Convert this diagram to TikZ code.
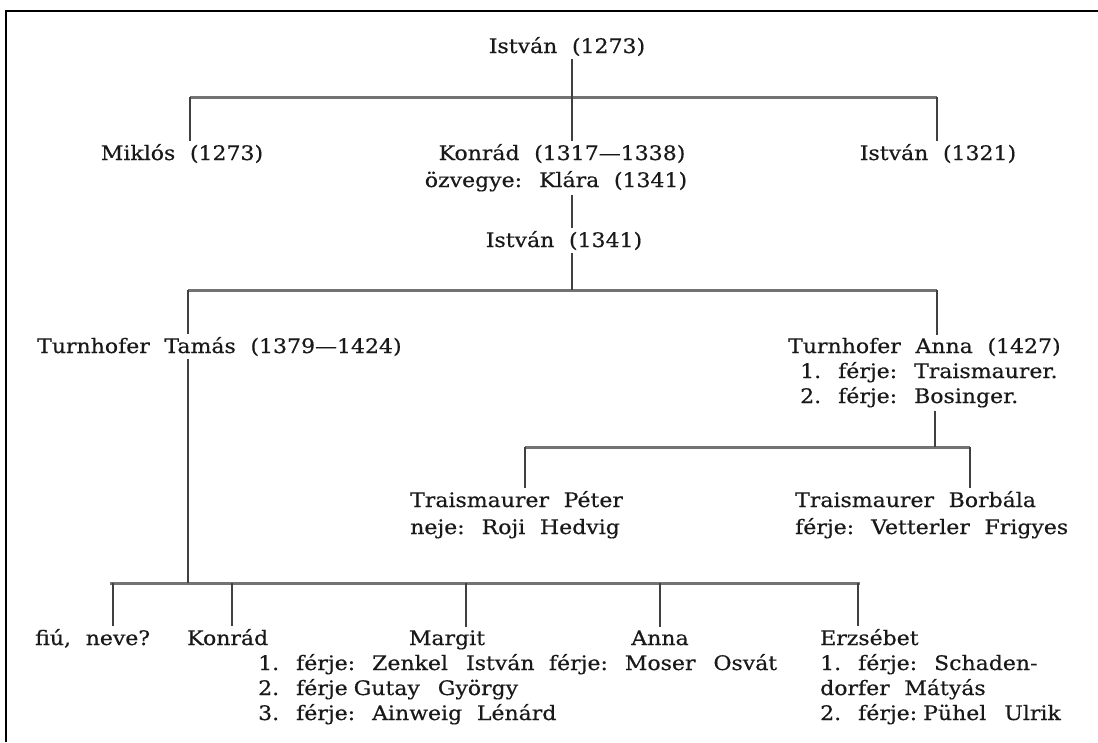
\documentclass[tikz,border=0pt]{standalone}
\usepackage{fontspec}
\setmainfont{DejaVu Serif}[WordSpace={2.1}, FakeStretch=1.1, FakeBold=0.5]
\newcommand{\nsp}{\hspace{0.3em}}
\newcommand{\wsp}{\hspace{0.9em}}
\begin{document}
\begin{tikzpicture}[x=1pt,y=-1pt,
  lbl/.style={anchor=base west, inner sep=0pt, font=\fontsize{20}{25}\selectfont, text=black!90},
  lblc/.style={lbl, anchor=base},
  bar/.style={line width=3pt, draw=black!55},
  stem/.style={line width=1.3pt, draw=black!75},
  frameline/.style={line width=2.5pt, draw=black}]
\useasboundingbox (0,0) rectangle (1098,742);
\draw[frameline] (6,742) -- (6,11) -- (1098,11);

% generation 1
\node[lblc] (i1273) at (567,53) {István (1273)};
\coordinate (b1l) at (190,97);
\coordinate (b1m) at (572,97);
\coordinate (b1r) at (937,97);
\draw[bar] (b1l) -- (b1r);
\draw[stem] (b1m) -- ([yshift=-3pt]i1273.south -| b1m);

% generation 2
\node[lblc] (miklos) at (182,160) {Miklós (1273)};
\node[lblc] (konrad) at (562,160) {Konrád (1317—1338)};
\node[lblc] (klara) at (556,187) {özvegye: Klára (1341)};
\node[lblc] (i1321) at (938,160) {István (1321)};
\draw[stem] (b1l) -- ([yshift=3pt]miklos.north -| b1l);
\draw[stem] (b1m) -- ([yshift=3pt]konrad.north -| b1m);
\draw[stem] (b1r) -- ([yshift=3pt]i1321.north -| b1r);

% generation 3
\node[lblc] (i1341) at (564,247) {István (1341)};
\draw[stem] ([yshift=-3pt]klara.south -| b1m) -- ([yshift=3pt]i1341.north -| b1m);
\coordinate (b2l) at (188,290);
\coordinate (b2m) at (572,290);
\coordinate (b2r) at (937,290);
\draw[bar] (b2l) -- (b2r);
\draw[stem] ([yshift=-3pt]i1341.south -| b2m) -- (b2m);

% generation 4
\node[lbl] (tamas) at (37,353) {Turnhofer Tamás (1379—1424)};
\node[lbl] (anna) at (788,353) {Turnhofer Anna (1427)};
\node[lbl] (anna2) at (800,378) {1. férje: Traismaurer.};
\node[lbl] (anna3) at (800,403) {2. férje: Bosinger.};
\draw[stem] (b2l) -- ([yshift=3pt]tamas.north -| b2l);
\draw[stem] (b2r) -- ([yshift=3pt]anna.north -| b2r);

% Anna's children
\coordinate (b3l) at (525,447);
\coordinate (b3m) at (935,447);
\coordinate (b3r) at (970,447);
\draw[bar] (b3l) -- (b3r);
\draw[stem] ([yshift=-3pt]anna3.south -| b3m) -- (b3m);
\node[lbl] (peter) at (410,507) {Traismaurer Péter};
\node[lbl] (peter2) at (410,534) {neje: Roji Hedvig};
\node[lbl] (borbala) at (795,507) {Traismaurer Borbála};
\node[lbl] (borbala2) at (795,534) {férje: Vetterler Frigyes};
\draw[stem] (b3l) -- ([yshift=3pt]peter.north -| b3l);
\draw[stem] (b3r) -- ([yshift=3pt]borbala.north -| b3r);

% Tamás's children
\coordinate (b4l) at (110,583);
\coordinate (b4m) at (188,583);
\coordinate (b4r) at (860,583);
\coordinate (d1) at (113,583);
\coordinate (d2) at (232,583);
\coordinate (d3) at (466,583);
\coordinate (d4) at (660,583);
\coordinate (d5) at (858,583);
\draw[bar] (b4l) -- (b4r);
\draw[stem] ([yshift=-3pt]tamas.south -| b4m) -- (b4m);

\node[lbl] (fiu) at (35,645) {fiú, neve?};
\node[lbl] (konrad2) at (187,645) {Konrád};
\node[lblc] (margit) at (447,645) {Margit};
\node[lbl] (margit1) at (258,670) {1. férje: Zenkel\wsp István};
\node[lbl] (margit2) at (258,695) {2. férje\nsp Gutay\wsp György};
\node[lbl] (margit3) at (258,720) {3. férje: Ainweig Lénárd};
\node[lblc] (annac) at (660,645) {Anna};
\node[lbl] (moser) at ([xshift=14pt]margit1.base east) {férje: Moser\wsp Osvát};
\node[lbl] (erzs) at (820,645) {Erzsébet};
\node[lbl] (erzs1) at (820,670) {1. férje: Schaden-};
\node[lbl] (erzs2) at (820,695) {dorfer Mátyás};
\node[lbl] (erzs3) at (820,720) {2. férje:\nsp Pühel\wsp Ulrik};

\draw[stem] (d1) -- ([yshift=3pt]fiu.north -| d1);
\draw[stem] (d2) -- ([yshift=3pt]konrad2.north -| d2);
\draw[stem] (d3) -- ([yshift=3pt]margit.north -| d3);
\draw[stem] (d4) -- ([yshift=3pt]annac.north -| d4);
\draw[stem] (d5) -- ([yshift=3pt]erzs.north -| d5);
\end{tikzpicture}
\end{document}
